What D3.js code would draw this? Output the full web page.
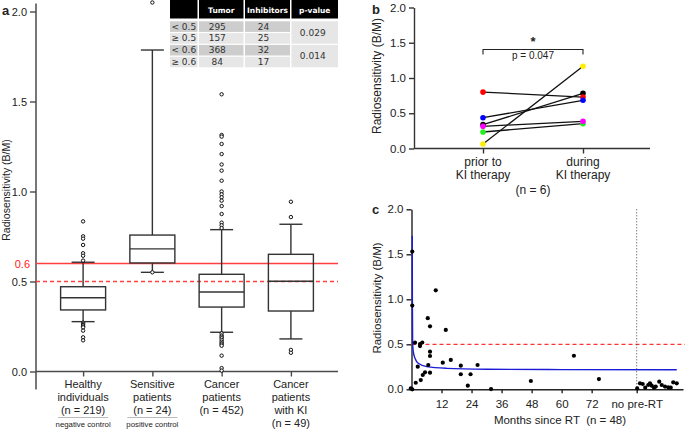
<!DOCTYPE html>
<html>
<head>
<meta charset="utf-8">
<script src="https://cdn.jsdelivr.net/npm/d3@7"></script>
<style>
  body { margin: 0; background: #fff; }
  text { font-family: "Liberation Sans", Arial, sans-serif; fill: #222; }
</style>
</head>
<body>
<script>
// ---- panel a : box plots ----
const groups = ['Healthy', 'Sensitive', 'Cancer', 'CancerKI']
const groupLabels = [
  ['Healthy', 'individuals', '(n = 219)'],
  ['Sensitive', 'patients', '(n = 24)'],
  ['Cancer', 'patients', '(n = 452)'],
  ['Cancer', 'patients', 'with KI', '(n = 49)']
]
const groupNotes = ['negative control', 'positive control', null, null]
const q1 = [0.342, 0.603, 0.358, 0.336]
const medians = [0.41, 0.681, 0.442, 0.501]
const q3 = [0.471, 0.758, 0.54, 0.651]
const whiskLo = [0.277, 0.551, 0.218, 0.181]
const whiskHi = [0.607, 1.786, 0.788, 0.818]
const outliers = [
  [0.834, 0.751, 0.738, 0.703, 0.657, 0.643, 0.616, 0.271, 0.265, 0.258, 0.25, 0.245, 0.227, 0.19, 0.173],
  [2.05, 0.551],
  [1.54, 1.314, 1.305, 1.264, 1.208, 1.15, 1.116, 1.06, 1.0, 0.984, 0.968, 0.949, 0.919, 0.875, 0.827, 0.812, 0.797,
   0.212, 0.2, 0.193, 0.185, 0.175, 0.165, 0.157, 0.15, 0.143, 0.088, 0.019, 0.005],
  [0.943, 0.858, 0.12, 0.104]
]
const yTicks = [0, 0.5, 1.0, 1.5, 2.0]

// table in panel a
const tableHeader = ['', 'Tumor', 'Inhibitors', 'p-value']
const cutoffs = ['< 0.5', '≥ 0.5', '< 0.6', '≥ 0.6']
const tumorCounts = [295, 157, 368, 84]
const inhibitorCounts = [24, 25, 32, 17]
const pValues = ['0.029', '0.014']

// ---- panel b : paired ----
const timepoints = ['prior', 'during']
const timeLabels = [['prior to', 'KI therapy'], ['during', 'KI therapy']]
const pairColors = ['#ff0000', '#0000ff', '#000000', '#ff00ff', '#22ee22', '#ffee00']
const priorValues = [0.80, 0.437, 0.338, 0.315, 0.234, 0.064]
const duringValues = [0.73, 0.684, 0.783, 0.386, 0.352, 1.166]

// ---- panel c : months since RT ----
const months = [-0.3, 0.3, 0.3, 0.3, 1.4, 1.7, 2.5, 3.4, 3.4, 3.7, 4.3, 4.5, 5.4, 6.5, 6.7, 7.4, 7.4, 7.4, 7.4,
  9.7, 12.5, 13.7, 15.7, 19.7, 19.7, 22.5, 23.6, 26.4, 31.8, 47.7, 64.9, 74.9]
const monthValues = [0.01, 0.0, 1.53, 0.93, 0.518, 0.073, 0.251, 0.503, 0.48, 0.103, 0.52, 0.159, 0.189, 0.79, 0.27,
  0.70, 0.418, 0.37, 0.185, 1.10, 0.296, 0.66, 0.326, 0.262, 0.167, 0.04, 0.167, 0.27, 0.003, 0.092, 0.373, 0.114]
// no pre-RT patients, spread right of the dotted line
const noPreSlots = [90.2, 91.3, 92.4, 93.4, 94.6, 95.3, 96.0, 96.9, 97.6, 99.0, 100.0, 101.3, 102.6, 103.6, 104.6, 106.0]
const noPreValues = [0.01, 0.066, 0.059, 0.018, 0.048, 0.066, 0.04, 0.018, 0.03, 0.085, 0.048, 0.03, 0.022, 0.018, 0.078, 0.066]
const fitMonths = [0.3, 0.35, 0.45, 0.72, 1.4, 2.7, 6.1, 14, 30, 60, 106]
const fitValues = [1.707, 1.0, 0.52, 0.418, 0.344, 0.289, 0.252, 0.233, 0.223, 0.219, 0.217]
const monthTicks = [12, 24, 36, 48, 60, 72]
const noPreTick = 90

const svg = d3.select('body').append('svg')
  .attr('width', 685)
  .attr('height', 429)

const axisColor = '#4a4a4a'
const boxColor = '#333'

function styleAxis(g, color, fs) {
  g.selectAll('path, line').attr('stroke', color).attr('stroke-width', 1.4)
  g.selectAll('text').style('font-size', fs + 'px').attr('fill', '#222')
}

// ================= panel a =================
const xA = d3.scalePoint().domain(groups).range([36, 338]).padding(0.68)
const yA = d3.scaleLinear().domain([0, 2]).range([371.5, 11.5])
const bw = 45, cap = 23

const gA = svg.append('g')

// y axis
const yAxisA = gA.append('g')
  .attr('transform', 'translate(36,0)')
  .call(d3.axisLeft(yA).tickValues(yTicks).tickFormat(d3.format('.1f')).tickSize(6).tickSizeOuter(0))
yAxisA.select('.domain').remove()
styleAxis(yAxisA, axisColor, 11)
gA.append('line')
  .attr('x1', 36).attr('x2', 36)
  .attr('y1', yA(2.045)).attr('y2', yA(-0.1))
  .attr('stroke', axisColor).attr('stroke-width', 1.5)

// red thresholds
gA.append('line')
  .attr('x1', 36).attr('x2', 338)
  .attr('y1', yA(0.6)).attr('y2', yA(0.6))
  .attr('stroke', '#ff4040').attr('stroke-width', 1.4)
gA.append('line')
  .attr('x1', 36).attr('x2', 338)
  .attr('y1', yA(0.5)).attr('y2', yA(0.5))
  .attr('stroke', '#ff4040').attr('stroke-width', 1.4)
  .attr('stroke-dasharray', '4,3')
gA.append('text')
  .attr('x', 30).attr('y', yA(0.6) + 4)
  .attr('text-anchor', 'end')
  .style('font-size', '11px')
  .attr('fill', '#ff2020')
  .style('fill', '#ff2020')
  .text('0.6')

// x axis
const xAxisA = gA.append('g')
  .attr('transform', 'translate(0,' + yA(0) + ')')
  .call(d3.axisBottom(xA).tickSize(5).tickSizeOuter(0).tickFormat(''))
xAxisA.select('.domain').attr('d', 'M36,0H338')
styleAxis(xAxisA, axisColor, 11)

// boxes
groups.forEach((g, i) => {
  const cx = xA(g)
  const box = gA.append('g').attr('stroke', boxColor).attr('stroke-width', 1.4).attr('fill', 'none')
  box.append('line').attr('x1', cx).attr('x2', cx).attr('y1', yA(q3[i])).attr('y2', yA(whiskHi[i]))
  box.append('line').attr('x1', cx).attr('x2', cx).attr('y1', yA(q1[i])).attr('y2', yA(whiskLo[i]))
  box.append('line').attr('x1', cx - cap / 2).attr('x2', cx + cap / 2).attr('y1', yA(whiskHi[i])).attr('y2', yA(whiskHi[i]))
  box.append('line').attr('x1', cx - cap / 2).attr('x2', cx + cap / 2).attr('y1', yA(whiskLo[i])).attr('y2', yA(whiskLo[i]))
  box.append('rect')
    .attr('x', cx - bw / 2).attr('width', bw)
    .attr('y', yA(q3[i])).attr('height', yA(q1[i]) - yA(q3[i]))
    .attr('fill', 'none')
  box.append('line').attr('x1', cx - bw / 2).attr('x2', cx + bw / 2).attr('y1', yA(medians[i])).attr('y2', yA(medians[i]))

  gA.selectAll(null)
    .data(outliers[i])
    .enter().append('circle')
    .attr('cx', cx).attr('cy', d => yA(d))
    .attr('r', 1.7)
    .attr('fill', '#fff')
    .attr('stroke', '#111')
    .attr('stroke-width', 1)

  // labels
  groupLabels[i].forEach((line, k) => {
    gA.append('text')
      .attr('x', cx).attr('y', 388 + k * 13)
      .attr('text-anchor', 'middle')
      .style('font-size', '11px')
      .text(line)
  })
  if (groupNotes[i]) {
    gA.append('line')
      .attr('x1', cx - 25).attr('x2', cx + 25)
      .attr('y1', 417.5).attr('y2', 417.5)
      .attr('stroke', '#aaa').attr('stroke-width', 0.8)
    gA.append('text')
      .attr('x', cx).attr('y', 427)
      .attr('text-anchor', 'middle')
      .style('font-size', '7.8px')
      .attr('fill', '#333')
      .text(groupNotes[i])
  }
})

gA.append('text')
  .attr('x', 2).attr('y', 15)
  .style('font-size', '13px').style('font-weight', 'bold')
  .text('a')
gA.append('text')
  .attr('transform', 'translate(10,' + 190 + ') rotate(-90)')
  .attr('text-anchor', 'middle')
  .style('font-size', '10.5px')
  .text('Radiosensitivity (B/M)')

// table
const colX = [170, 199, 245, 291.5]
const colW = [27.5, 44.5, 45, 46.5]
const rowY = cutoffs.map((c, i) => 21.3 + 11.8 * i)
const rowH = 10.6
const tbl = gA.append('g')
tableHeader.forEach((h, j) => {
  tbl.append('rect').attr('x', colX[j]).attr('y', 0).attr('width', colW[j]).attr('height', 18.5).attr('fill', '#000')
  tbl.append('text')
    .attr('x', colX[j] + colW[j] / 2).attr('y', 12.5)
    .attr('text-anchor', 'middle')
    .style('font-family', '"DejaVu Sans", Verdana, sans-serif')
    .style('font-size', '7.5px').style('font-weight', 'bold')
    .style('fill', '#fff')
    .text(h)
})
cutoffs.forEach((c, i) => {
  const fill = i % 2 === 0 ? '#cdcdcd' : '#e6e6e6'
  const cells = [c, tumorCounts[i], inhibitorCounts[i]]
  cells.forEach((v, j) => {
    tbl.append('rect').attr('x', colX[j]).attr('y', rowY[i]).attr('width', colW[j]).attr('height', rowH).attr('fill', fill)
    tbl.append('text')
      .attr('x', colX[j] + colW[j] / 2 - (j === 0 ? 0 : 4)).attr('y', rowY[i] + 8.3)
      .attr('text-anchor', 'middle')
      .style('font-family', '"DejaVu Sans", Verdana, sans-serif')
      .style('font-size', '9px')
      .style('fill', '#333')
      .text(v)
  })
})
pValues.forEach((p, k) => {
  const top = rowY[k * 2], bot = rowY[k * 2 + 1] + rowH
  tbl.append('rect').attr('x', colX[3]).attr('y', top).attr('width', colW[3]).attr('height', bot - top).attr('fill', '#e6e6e6')
  tbl.append('text')
    .attr('x', colX[3] + colW[3] / 2 - 2).attr('y', (top + bot) / 2 + 3.2)
    .attr('text-anchor', 'middle')
    .style('font-family', '"DejaVu Sans", Verdana, sans-serif')
    .style('font-size', '9px')
    .style('fill', '#333')
    .text(p)
})

// ================= panel b =================
const xB = d3.scalePoint().domain(timepoints).range([414, 652]).padding(0.69)
const yB = d3.scaleLinear().domain([0, 2]).range([148.5, 7.5])
const gB = svg.append('g')

const yAxisB = gB.append('g')
  .attr('transform', 'translate(414,0)')
  .call(d3.axisLeft(yB).tickValues(yTicks).tickFormat(d3.format('.1f')).tickSize(5).tickSizeOuter(0))
styleAxis(yAxisB, '#333', 11.5)
const xAxisB = gB.append('g')
  .attr('transform', 'translate(0,' + yB(0) + ')')
  .call(d3.axisBottom(xB).tickSize(5).tickSizeOuter(0).tickFormat(''))
xAxisB.select('.domain').attr('d', 'M0,0H236').attr('transform', 'translate(414,0)')
styleAxis(xAxisB, '#333', 11.5)

priorValues.forEach((v, i) => {
  gB.append('line')
    .attr('x1', xB('prior')).attr('y1', yB(v))
    .attr('x2', xB('during')).attr('y2', yB(duringValues[i]))
    .attr('stroke', '#111').attr('stroke-width', 1.3)
})
const drawOrder = [2, 0, 1, 4, 3, 5]
drawOrder.forEach(i => {
  ;[[priorValues[i], 'prior'], [duringValues[i], 'during']].forEach(([v, t]) => {
    gB.append('circle')
      .attr('cx', xB(t)).attr('cy', yB(v))
      .attr('r', 2.8)
      .attr('fill', pairColors[i])
  })
})

timeLabels.forEach((lines, j) => {
  lines.forEach((line, k) => {
    gB.append('text')
      .attr('x', xB(timepoints[j])).attr('y', 166 + k * 12.5)
      .attr('text-anchor', 'middle')
      .style('font-size', '12px')
      .text(line)
  })
})
gB.append('text')
  .attr('x', (xB('prior') + xB('during')) / 2).attr('y', 194)
  .attr('text-anchor', 'middle')
  .style('font-size', '12px')
  .text('(n = 6)')

// significance bracket
const brY = 49.5
gB.append('path')
  .attr('d', d3.line()([[xB('prior'), brY + 5], [xB('prior'), brY], [xB('during'), brY], [xB('during'), brY + 5]]))
  .attr('fill', 'none').attr('stroke', '#222').attr('stroke-width', 1.1)
gB.append('text')
  .attr('x', (xB('prior') + xB('during')) / 2).attr('y', 46)
  .attr('text-anchor', 'middle')
  .style('font-size', '13px').style('font-weight', 'bold')
  .text('*')
gB.append('text')
  .attr('x', (xB('prior') + xB('during')) / 2).attr('y', 59)
  .attr('text-anchor', 'middle')
  .style('font-size', '10px')
  .text('p = 0.047')

gB.append('text')
  .attr('x', 372).attr('y', 14)
  .style('font-size', '13px').style('font-weight', 'bold')
  .text('b')
gB.append('text')
  .attr('transform', 'translate(381,' + 76 + ') rotate(-90)')
  .attr('text-anchor', 'middle')
  .style('font-size', '12px')
  .text('Radiosensitivity (B/M)')

// ================= panel c =================
const xC = d3.scaleLinear().domain([0, 108.5]).range([411.5, 683])
const yC = d3.scaleLinear().domain([0, 2]).range([389.3, 209.3])
const gC = svg.append('g')

const yAxisC = gC.append('g')
  .attr('transform', 'translate(411.5,0)')
  .call(d3.axisLeft(yC).tickValues(yTicks).tickFormat(d3.format('.1f')).tickSize(5).tickSizeOuter(0))
styleAxis(yAxisC, '#222', 11.5)

const xAxisC = gC.append('g')
  .attr('transform', 'translate(0,' + yC(0) + ')')
  .call(d3.axisBottom(xC).tickValues(monthTicks.concat([noPreTick])).tickSize(4).tickSizeOuter(0)
    .tickFormat(d => d === noPreTick ? 'no pre-RT' : d))
styleAxis(xAxisC, '#222', 11.5)
xAxisC.selectAll('text').attr('dy', '1.0em')

// red dashed 0.5
gC.append('line')
  .attr('x1', xC(0)).attr('x2', 685)
  .attr('y1', yC(0.5)).attr('y2', yC(0.5))
  .attr('stroke', '#ff3030').attr('stroke-width', 1.3)
  .attr('stroke-dasharray', '4,3')

// dotted separator
gC.append('line')
  .attr('x1', xC(noPreTick)).attr('x2', xC(noPreTick))
  .attr('y1', yC(2)).attr('y2', yC(0))
  .attr('stroke', '#444').attr('stroke-width', 1)
  .attr('stroke-dasharray', '1,2')

// fit curve
gC.append('path')
  .datum(fitMonths.map((m, i) => [m, fitValues[i]]))
  .attr('d', d3.line().x(d => xC(d[0])).y(d => yC(d[1])).curve(d3.curveMonotoneX))
  .attr('fill', 'none').attr('stroke', '#1c1cd8').attr('stroke-width', 1.4)

gC.selectAll(null)
  .data(months.map((m, i) => [m, monthValues[i]]).concat(noPreSlots.map((s, i) => [s, noPreValues[i]])))
  .enter().append('circle')
  .attr('cx', d => xC(d[0])).attr('cy', d => yC(d[1]))
  .attr('r', 2.1)
  .attr('fill', '#000')

gC.append('text')
  .attr('x', 560).attr('y', 424)
  .attr('text-anchor', 'middle')
  .style('font-size', '11.5px')
  .attr('xml:space', 'preserve')
  .style('white-space', 'pre')
  .text('Months since RT  (n = 48)')

gC.append('text')
  .attr('x', 372).attr('y', 214)
  .style('font-size', '13px').style('font-weight', 'bold')
  .text('c')
gC.append('text')
  .attr('transform', 'translate(381,' + 298 + ') rotate(-90)')
  .attr('text-anchor', 'middle')
  .style('font-size', '11.5px')
  .text('Radiosensitivity (B/M)')
</script>
</body>
</html>
